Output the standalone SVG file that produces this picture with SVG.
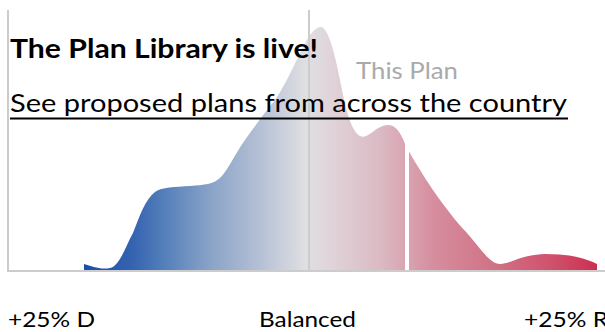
<svg xmlns="http://www.w3.org/2000/svg" width="605" height="332" viewBox="0 0 605 332">
<style>
.axis{stroke:#cccccc;stroke-width:2;fill:none}
.t{font-family:Lato,"Liberation Sans",sans-serif;fill:#000}
.lbl{font-family:Lato,"Liberation Sans",sans-serif;font-size:22px;fill:#000}
</style>
<defs>
<linearGradient id="g" gradientUnits="userSpaceOnUse" x1="84" y1="0" x2="597" y2="0">
<stop offset="0" stop-color="#1a4fa8"/>
<stop offset="0.095" stop-color="#3563b0"/>
<stop offset="0.158" stop-color="#5580bb"/>
<stop offset="0.246" stop-color="#89a3c7"/>
<stop offset="0.343" stop-color="#b5c0d5"/>
<stop offset="0.431" stop-color="#dfdfe2"/>
<stop offset="0.48" stop-color="#e0d4d9"/>
<stop offset="0.577" stop-color="#dbbac4"/>
<stop offset="0.68" stop-color="#d68e9e"/>
<stop offset="0.811" stop-color="#d06f84"/>
<stop offset="0.903" stop-color="#d0546e"/>
<stop offset="1" stop-color="#cc3050"/>
</linearGradient>
</defs>
<g id="distribution">
<path fill="url(#g)" d="M84,271 L84,264 C92,266 100,270 110,268 C120,266 126,245 133,233 C140,215 145,200 155,192 C162,187 175,187 190,186 C205,185 213,184 220,178 C228,170 235,154 245,140 C255,126 265,112 275,100 C288,82 300,50 310,35 C314,30 317,27 321,27 C327,27 334,48 340,80 C345,105 350,130 360,136 C368,140 375,126 387,125 C397,124 402,136 406,146 C420,172 445,210 467,233 C480,248 490,264 500,264 C510,264 520,255 545,254 C570,254 585,258 597,264 L597,271 Z"/>
</g>
<g id="axes">
<line class="axis" x1="8" y1="10" x2="8" y2="272"/>
<line class="axis" x1="309" y1="10" x2="309" y2="272"/>
<line class="axis" x1="8" y1="271" x2="605" y2="271"/>
</g>
<g id="this-plan">
<line x1="407" y1="135" x2="407" y2="270" stroke="#ffffff" stroke-width="4"/>
<text x="356" y="79" font-family="Lato,'Liberation Sans',sans-serif" font-size="24" fill="#aaaaaa" textLength="102" lengthAdjust="spacingAndGlyphs">This Plan</text>
</g>
<g id="banner">
<text class="t" x="10" y="58" font-size="27" font-weight="bold" textLength="308" lengthAdjust="spacingAndGlyphs">The Plan Library is live!</text>
<text class="t" x="10" y="112" font-size="25" textLength="557" lengthAdjust="spacingAndGlyphs">See proposed plans from across the country</text>
<line x1="10" y1="118.5" x2="568" y2="118.5" stroke="#000" stroke-width="2"/>
</g>
<g id="labels">
<text class="lbl" x="8" y="327" textLength="87" lengthAdjust="spacingAndGlyphs">+25% D</text>
<text class="lbl" x="259" y="327" textLength="97" lengthAdjust="spacingAndGlyphs">Balanced</text>
<text class="lbl" x="524" y="327" textLength="84" lengthAdjust="spacingAndGlyphs">+25% R</text>
</g>
</svg>
